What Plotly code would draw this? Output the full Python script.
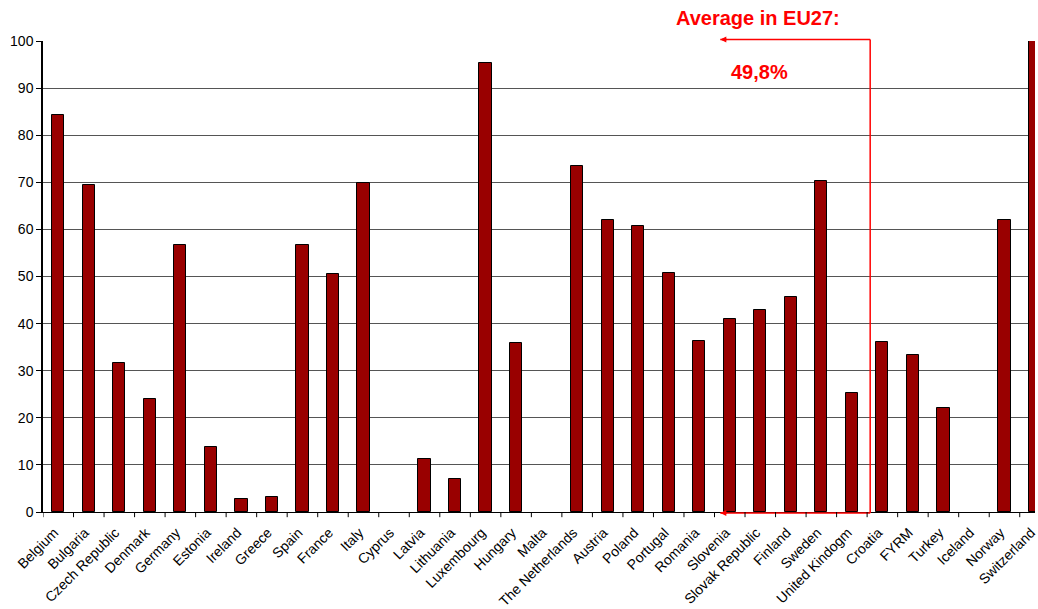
import plotly.graph_objects as go

countries = ["Belgium", "Bulgaria", "Czech Republic", "Denmark", "Germany", "Estonia",
             "Ireland", "Greece", "Spain", "France", "Italy", "Cyprus", "Latvia",
             "Lithuania", "Luxembourg", "Hungary", "Malta", "The Netherlands", "Austria",
             "Poland", "Portugal", "Romania", "Slovenia", "Slovak Republic", "Finland",
             "Sweden", "United Kindogm", "Croatia", "FYRM", "Turkey", "Iceland",
             "Norway", "Switzerland"]
values = [84.2, 69.5, 31.7, 24.0, 56.6, 13.8, 2.8, 3.2, 56.6, 50.5, 69.9, 0, 11.3,
          7.0, 95.3, 35.9, 0, 73.5, 62.0, 60.8, 50.7, 36.3, 41.0, 42.9, 45.7,
          70.3, 25.3, 36.1, 33.4, 22.1, 0, 62.0, 100]
y_ticks = [0, 10, 20, 30, 40, 50, 60, 70, 80, 90, 100]
avg_title = "Average in EU27:"
avg_value = "49,8%"

W, H = 1038, 609
ml, mr, mt, mb = 43, 0, 41, 97
pw, ph = W - ml - mr, H - mt - mb
FONT = "Liberation Sans, Arial"

fig = go.Figure()
fig.add_trace(go.Bar(
    x=list(range(len(countries))), y=values, width=0.4,
    marker=dict(color="#990000",
                line=dict(color="#000000", width=[1 if v > 0 else 0 for v in values])),
))

red = "#ff0000"
x_right = 26.6
x_left = 21.69
y_top = 1.003
y_bot = -0.002
fig.add_shape(type="line", xref="x", yref="paper", x0=x_right, x1=x_right, y0=y_top, y1=y_bot,
              line=dict(color=red, width=1.5), layer="above")
for yy in [y_top, y_bot]:
    fig.add_shape(type="line", xref="x", yref="paper", x0=x_left, x1=x_right, y0=yy, y1=yy,
                  line=dict(color=red, width=1.5), layer="above")
    fig.add_annotation(x=x_left, y=yy, ax=10, ay=0, xref="x", yref="paper",
                       axref="pixel", ayref="pixel", text=" ", showarrow=True,
                       arrowhead=2, arrowsize=0.8, arrowwidth=1.5, arrowcolor=red,
                       standoff=0, startstandoff=0)

def px_ann(text, px, py):
    fig.add_annotation(x=(px - ml) / pw, y=(H - mb - py) / ph, xref="paper", yref="paper",
                       text="<b>" + text + "</b>", showarrow=False,
                       xanchor="center", yanchor="middle",
                       font=dict(family=FONT, size=20, color=red))

px_ann(avg_title, 760, 18)
px_ann(avg_value, 762, 72)

fig.update_layout(
    width=W, height=H,
    margin=dict(l=ml, r=mr, t=mt, b=mb),
    paper_bgcolor="white", plot_bgcolor="white",
    showlegend=False,
    bargap=0,
    font=dict(family=FONT, size=14, color="#000000"),
    xaxis=dict(
        tickmode="array", tickvals=list(range(len(countries))), ticktext=countries,
        tickangle=-45, range=[-0.5, 32.0], ticklabeloverflow="allow",
        ticklabelshift=-4, ticklabelstandoff=6,
        showline=True, linecolor="#000000", linewidth=1,
        ticks="", showgrid=False, zeroline=False,
        tickfont=dict(size=14),
    ),
    yaxis=dict(
        range=[0, 100], tickvals=y_ticks,
        showline=True, linecolor="#000000", linewidth=1.5,
        ticks="outside", ticklen=5, tickcolor="#000000",
        showgrid=True, gridcolor="#555555", gridwidth=1,
        zeroline=False, tickfont=dict(size=14),
    ),
)
for i in range(len(countries) + 1):
    fig.add_shape(type="line", xref="x", yref="paper", x0=i - 0.5, x1=i - 0.5,
                  y0=0, y1=-0.011, line=dict(color="#000000", width=1))

fig.write_html("out.html")
